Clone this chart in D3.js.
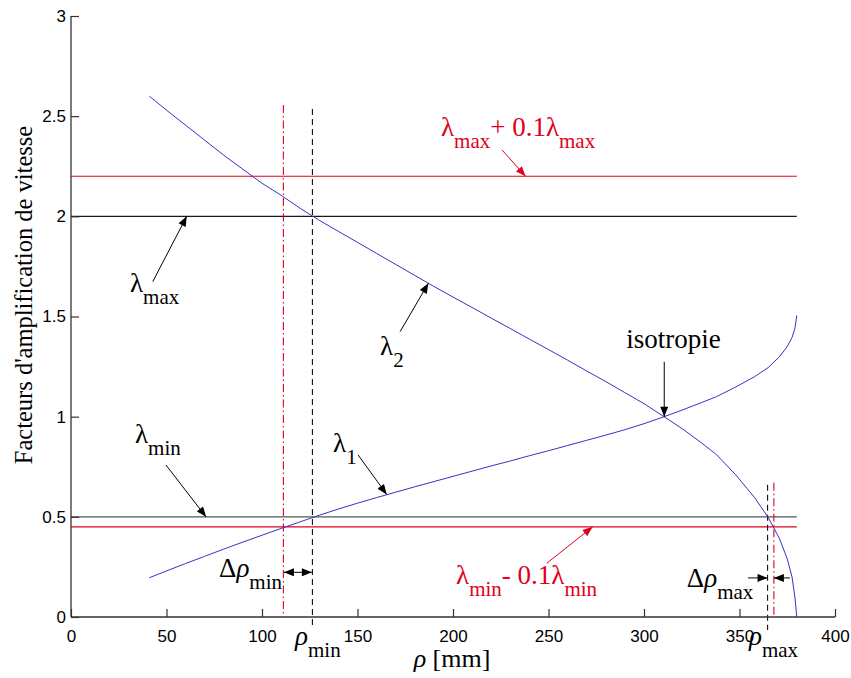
<!DOCTYPE html>
<html><head><meta charset="utf-8">
<script src="https://cdn.jsdelivr.net/npm/d3@7"></script>
<style>body{margin:0;background:#fff}svg{display:block}</style>
</head><body>
<svg id="c" width="851" height="678"></svg>
<script>
// ---- data ----
const rho = [41,50,60,70,80,90,100,110,120,130,140,150,160,170,180,190,200,210,220,230,240,250,260,270,280,290,300,310,320,330,338,348,358,365,371,375,377.5,379,380];
const lambda2 = [2.60,2.53,2.455,2.38,2.305,2.235,2.165,2.105,2.04,1.98,1.925,1.87,1.815,1.76,1.705,1.65,1.597,1.545,1.492,1.44,1.387,1.335,1.282,1.228,1.175,1.12,1.065,1.003,0.94,0.87,0.81,0.71,0.595,0.497,0.39,0.29,0.2,0.1,0.0];
const lambda1 = [0.196,0.23,0.267,0.303,0.339,0.374,0.408,0.442,0.475,0.508,0.539,0.568,0.596,0.623,0.65,0.676,0.702,0.728,0.754,0.779,0.805,0.83,0.856,0.882,0.908,0.935,0.965,0.998,1.033,1.07,1.10,1.148,1.20,1.245,1.30,1.35,1.395,1.44,1.505];
const xTicks = [0,50,100,150,200,250,300,350,400];
const yTicks = [0,0.5,1,1.5,2,2.5,3];
const lambdaMax = 2.0, lambdaMin = 0.5;
const lambdaMaxTol = 2.2, lambdaMinTol = 0.45;
const hLineEnd = 380;
const rhoMin = 126.4, rhoMinTol = 111.2;
const rhoMax = 364.7, rhoMaxTol = 368;

const svg = d3.select("#c");
const x = d3.scaleLinear().domain([0,400]).range([71,835]);
const y = d3.scaleLinear().domain([0,3]).range([617,16]);
const serif = "'Liberation Serif','Times New Roman',serif";
const sans = "'Liberation Sans',Arial,sans-serif";
const RED = "#e0001b", BLUE = "#3434c8";

// markers
const defs = svg.append("defs");
[["ab","#000"],["ar",RED]].forEach(([id,c])=>{
  defs.append("marker").attr("id",id).attr("viewBox","0 0 10 8").attr("refX",10).attr("refY",4)
    .attr("markerUnits","userSpaceOnUse").attr("markerWidth",11).attr("markerHeight",8).attr("orient","auto-start-reverse")
    .append("path").attr("d","M0,0 L10,4 L0,8 Z").attr("fill",c);
});

// horizontal reference lines
function hline(v,c){svg.append("line").attr("x1",x(0)).attr("x2",x(hLineEnd)).attr("y1",y(v)).attr("y2",y(v)).attr("stroke",c).attr("stroke-width",1.2);}
hline(lambdaMaxTol,RED); hline(lambdaMax,"#1a1a1a"); hline(lambdaMin,"#555"); hline(lambdaMinTol,RED);

// vertical lines
function vline(v,top,bottomPx,c,dash){svg.append("line").attr("x1",x(v)).attr("x2",x(v)).attr("y1",y(top)).attr("y2",bottomPx).attr("stroke",c).attr("stroke-width",1.1).attr("stroke-dasharray",dash);}
vline(rhoMinTol,2.556,617,RED,"8,3,1.5,3");
vline(rhoMin,2.536,628,"#111","6,4");
vline(rhoMaxTol,0.67,617,RED,"8,3,1.5,3");
vline(rhoMax,0.66,630,"#111","6,4");

// curves
const line = d3.line().x((d,i)=>x(rho[i])).y(d=>y(d));
svg.append("path").attr("d",line(lambda2)).attr("fill","none").attr("stroke",BLUE).attr("stroke-width",1);
svg.append("path").attr("d",line(lambda1)).attr("fill","none").attr("stroke",BLUE).attr("stroke-width",1);

// axes
const gx = svg.append("g").attr("transform",`translate(0,${y(0)})`)
  .call(d3.axisBottom(x).tickValues(xTicks).tickSize(-8).tickPadding(13).tickFormat(d3.format("d")));
const gy = svg.append("g").attr("transform",`translate(${x(0)},0)`)
  .call(d3.axisLeft(y).tickValues(yTicks).tickSize(-8).tickPadding(5).tickFormat(d=>String(d)));
[gx,gy].forEach(g=>{
  g.select(".domain").attr("stroke","#333").attr("stroke-width",1.3);
  g.selectAll(".tick line").attr("stroke","#333").attr("stroke-width",1.2);
  g.selectAll("text").attr("font-family",sans).attr("font-size",17).attr("fill","#000");
});
gx.select(".domain").attr("d",`M${x(0)},0H${x(400)}`);
gy.select(".domain").attr("d",`M0,${y(0)}V${y(3)}`);

// tex-like text
function tex(xv,yv,parts,color,size,sub,anchor){
  const t = svg.append("text").attr("x",x(xv)).attr("y",y(yv)).attr("font-family",serif)
    .attr("font-size",size).attr("fill",color).attr("text-anchor",anchor||"start");
  let lvl=0;
  parts.forEach(p=>{
    const s = t.append("tspan").text(p.t);
    const target = p.sub?1:0;
    if(target!==lvl){ s.attr("dy", target? sub.dy : -sub.dy); lvl=target; }
    if(p.sub) s.attr("font-size",sub.size);
    if(p.it) s.attr("font-style","italic");
  });
  return t;
}
function arrow(x1,y1,x2,y2,c,mk,both){
  const l = svg.append("line").attr("x1",x(x1)).attr("y1",y(y1)).attr("x2",x(x2)).attr("y2",y(y2))
    .attr("stroke",c).attr("stroke-width",1).attr("marker-end",`url(#${mk})`);
  if(both) l.attr("marker-start",`url(#${mk})`);
}
const SUB = {size:21, dy:12};

tex(193.7,2.401,[{t:"λ"},{t:"max",sub:true},{t:"+ 0.1λ"},{t:"max",sub:true}],RED,27,SUB);
arrow(225.7,2.331,238,2.2,RED,"ar");

tex(30.9,1.622,[{t:"λ"},{t:"max",sub:true}],"#000",27,SUB);
arrow(42.8,1.674,60.6,2.0,"#000","ab");

tex(161.8,1.308,[{t:"λ"},{t:"2",sub:true}],"#000",27,SUB);
arrow(172.3,1.424,187.1,1.666,"#000","ab");

tex(315.4,1.343,[{t:"isotropie"}],"#000",27,SUB,"middle");
arrow(310.6,1.274,310.6,1.0,"#000","ab");

tex(33.5,0.869,[{t:"λ"},{t:"min",sub:true}],"#000",27,SUB);
arrow(49.7,0.759,70.7,0.5,"#000","ab");

tex(137.2,0.824,[{t:"λ"},{t:"1",sub:true}],"#000",27,SUB);
arrow(150.3,0.809,165.3,0.612,"#000","ab");

tex(201.6,0.165,[{t:"λ"},{t:"min",sub:true},{t:"- 0.1λ"},{t:"min",sub:true}],RED,27,SUB);
arrow(249.1,0.268,273.1,lambdaMinTol,RED,"ar");

tex(77.5,0.2,[{t:"Δ"},{t:"ρ",it:true},{t:"min",sub:true}],"#000",27,SUB);
arrow(rhoMinTol+0.3,0.223,rhoMin-0.3,0.223,"#000","ab",true);

tex(322.4,0.15,[{t:"Δ"},{t:"ρ",it:true},{t:"max",sub:true}],"#000",27,SUB);
arrow(354.5,0.195,rhoMax,0.195,"#000","ab");
arrow(376.4,0.195,rhoMaxTol,0.195,"#000","ab");

tex(117.3,-0.14,[{t:"ρ",it:true},{t:"min",sub:true}],"#000",27,SUB);
tex(354.97,-0.14,[{t:"ρ",it:true},{t:"max",sub:true}],"#000",27,SUB);

// axis titles
svg.append("text").attr("x",452).attr("y",667).attr("text-anchor","middle")
  .attr("font-family",serif).attr("font-size",26).attr("fill","#000")
  .call(t=>{t.append("tspan").attr("font-style","italic").text("ρ");t.append("tspan").text(" [mm]");});
svg.append("text").attr("transform","translate(32,295) rotate(-90)").attr("text-anchor","middle")
  .attr("font-family",serif).attr("font-size",24.5).attr("fill","#000").text("Facteurs d'amplification de vitesse");
</script>
</body></html>
